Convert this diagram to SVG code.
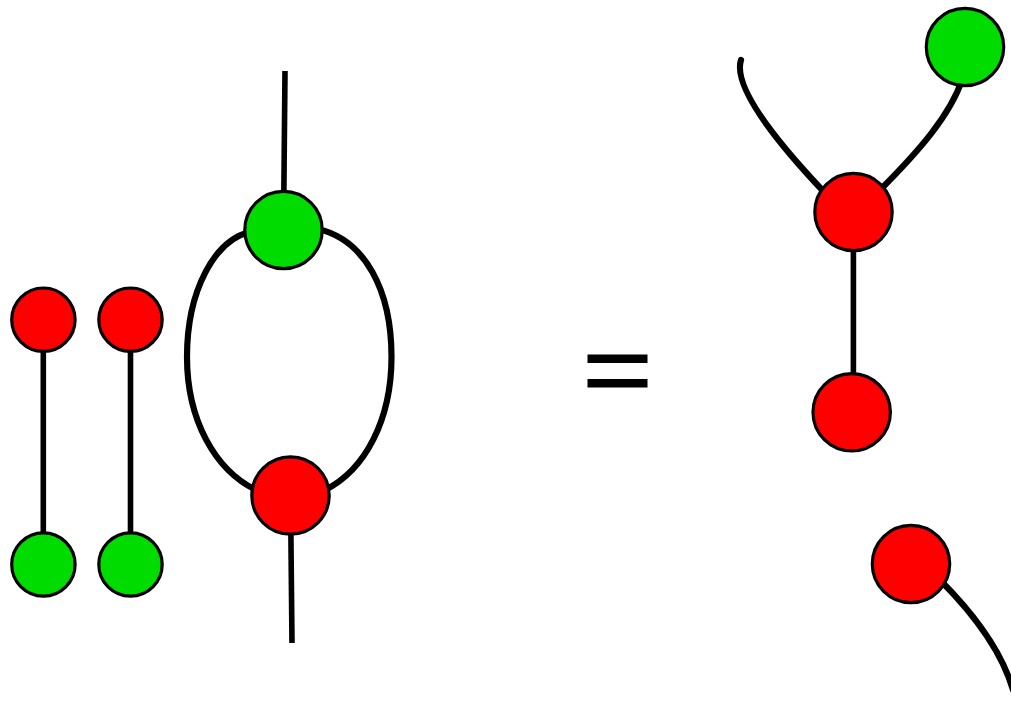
<svg xmlns="http://www.w3.org/2000/svg" width="1011" height="708" viewBox="0 0 1011 708">
<style>
.w{fill:none;stroke:#000;stroke-width:6.200;stroke-linecap:round}
.t{stroke-width:5.600;stroke-linecap:butt}
.r,.g{stroke:#000;stroke-width:3.200}
.r{fill:#ff0000}
.g{fill:#00dc00}
</style>
<rect width="1011" height="708" fill="#fff"/>
<g id="connectors">
<path class="w t" d="M43.300 320V565"/>
<path class="w t" d="M130.500 320V565"/>
<path class="w t" d="M285 71L283.500 230"/>
<path class="w t" d="M290.500 495L292 643"/>
<path class="w" d="M250 232C215 240 187 290 187 357C187 420 215 470 256 490"/>
<path class="w" d="M318 229C365 240 391.500 290 391.500 357C391.500 420 365 470 325 490"/>
<path class="w" d="M741 60C733 85 770 135 825 193"/>
<path class="w" d="M962 80C950 115 920 150 880 190"/>
<path class="w t" d="M853.400 212V412"/>
<path class="w" d="M940 580C965 605 1000 645 1013 690"/>
</g>
<g id="equals"><rect x="587.500" y="354.500" width="60" height="8.500"/><rect x="587.500" y="379" width="60" height="8.500"/></g>
<g id="n1"><circle class="r" cx="43.400" cy="319.700" r="31.700"/></g>
<g id="n2"><circle class="r" cx="130.500" cy="319.700" r="31.700"/></g>
<g id="n3"><circle class="g" cx="43.400" cy="564.500" r="31.700"/></g>
<g id="n4"><circle class="g" cx="130.500" cy="564.500" r="31.700"/></g>
<g id="n5"><circle class="g" cx="283.500" cy="230" r="38.700"/></g>
<g id="n6"><circle class="r" cx="290.500" cy="495.500" r="38.700"/></g>
<g id="n7"><circle class="g" cx="965" cy="47" r="38.700"/></g>
<g id="n8"><circle class="r" cx="853.500" cy="212" r="38.700"/></g>
<g id="n9"><circle class="r" cx="851.700" cy="412.300" r="38.700"/></g>
<g id="n10"><circle class="r" cx="911" cy="564" r="38.700"/></g>
</svg>
